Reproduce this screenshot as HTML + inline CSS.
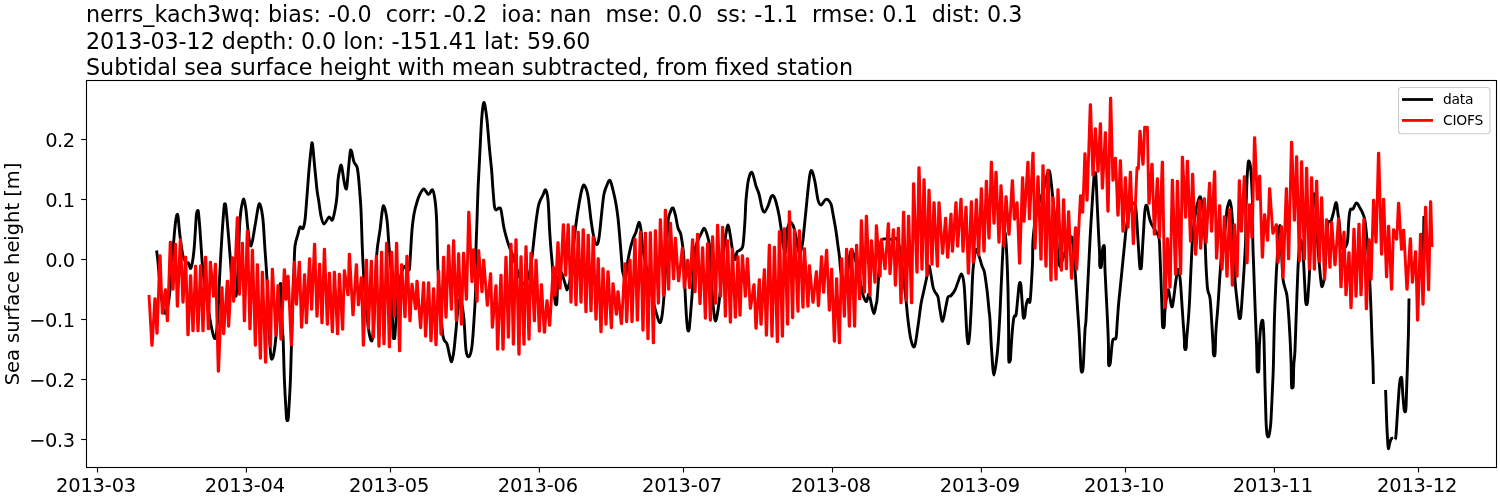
<!DOCTYPE html><html><head><meta charset="utf-8"><title>plot</title><style>html,body{margin:0;padding:0;background:#fff}svg{display:block;will-change:transform}text{font-family:"DejaVu Sans","Liberation Sans",sans-serif;fill:#000}</style></head><body>
<svg width="1500" height="500" viewBox="0 0 1500 500">
<rect width="1500" height="500" fill="#fff"/>
<defs><clipPath id="c"><rect x="86.5" y="80.5" width="1410.0" height="387.0"/></clipPath></defs>
<g clip-path="url(#c)" fill="none" stroke-linejoin="round" stroke-linecap="butt" stroke-width="2.9">
<path d="M156.6 250.5C156.8 252.4 157.4 256.2 158.0 262.0C158.6 267.8 159.2 277.8 160.0 285.0C160.8 292.2 161.7 300.2 162.5 305.0C163.3 309.8 164.1 313.5 165.0 313.5C165.9 313.5 167.2 308.9 168.0 305.0C168.8 301.1 169.3 297.2 170.0 290.0C170.7 282.8 171.2 271.7 172.0 262.0C172.8 252.3 173.8 239.5 174.5 232.0C175.2 224.5 175.8 219.9 176.3 217.0C176.7 214.1 176.9 214.4 177.2 214.4C177.5 214.4 177.6 213.4 178.1 217.0C178.6 220.6 179.2 229.5 180.0 236.0C180.8 242.5 181.9 251.5 183.0 256.0C184.1 260.5 185.5 261.8 186.4 263.0C187.3 264.2 187.7 262.2 188.5 263.0C189.3 263.8 190.1 270.2 191.0 268.0C191.9 265.8 193.2 258.0 194.0 250.0C194.8 242.0 195.6 226.2 196.0 220.0C196.4 213.8 196.4 214.6 196.7 213.0C197.0 211.4 197.3 210.4 197.6 210.4C197.9 210.4 198.1 209.7 198.5 213.0C198.9 216.3 199.4 222.2 200.0 230.0C200.6 237.8 201.4 252.3 202.0 260.0C202.6 267.7 202.8 269.3 203.6 276.0C204.4 282.7 205.8 291.8 207.0 300.0C208.2 308.2 209.7 318.6 211.0 325.0C212.3 331.4 213.9 339.1 215.0 338.6C216.1 338.1 216.8 330.1 217.5 322.0C218.2 313.9 218.6 298.7 219.0 290.0C219.4 281.3 219.5 279.2 220.0 270.0C220.5 260.8 221.3 245.5 222.0 235.0C222.7 224.5 223.6 212.1 224.1 207.0C224.6 201.9 224.7 204.4 225.0 204.4C225.3 204.4 225.4 202.7 225.9 207.0C226.4 211.3 227.2 221.2 228.0 230.0C228.8 238.8 229.7 251.3 230.4 260.0C231.1 268.7 231.1 276.0 232.0 282.0C232.9 288.0 235.0 298.0 236.0 296.0C237.0 294.0 237.4 281.0 238.0 270.0C238.6 259.0 238.9 240.0 239.4 230.0C239.9 220.0 240.4 214.7 241.0 210.0C241.6 205.3 242.3 203.4 242.7 201.6C243.1 199.8 243.3 199.0 243.6 199.0C243.9 199.0 244.1 199.8 244.5 201.6C244.9 203.4 245.4 205.3 246.0 210.0C246.6 214.7 247.2 224.0 248.0 230.0C248.8 236.0 249.8 246.7 251.0 246.0C252.2 245.3 253.8 232.3 255.0 226.0C256.2 219.7 257.2 211.6 258.0 208.0C258.8 204.4 259.2 202.4 260.0 204.4C260.8 206.4 262.2 212.4 263.0 220.0C263.8 227.6 264.3 240.0 265.0 250.0C265.7 260.0 266.2 264.0 267.0 280.0C267.8 296.0 269.1 332.9 270.0 346.0C270.9 359.1 271.4 360.3 272.4 358.6C273.4 356.9 275.1 345.8 276.0 336.0C276.9 326.2 277.5 308.1 278.0 300.0C278.5 291.9 278.8 290.1 279.1 287.6C279.4 285.1 279.7 285.0 280.0 285.0C280.3 285.0 280.5 280.1 280.9 287.6C281.3 295.1 282.0 321.3 282.4 330.0C282.8 338.7 282.9 331.7 283.2 340.0C283.5 348.3 283.9 368.3 284.4 380.0C284.9 391.7 285.6 403.7 286.0 410.0C286.4 416.3 286.3 416.2 286.5 418.0C286.7 419.8 287.1 420.6 287.4 420.6C287.7 420.6 288.1 419.8 288.3 418.0C288.5 416.2 288.4 416.3 288.8 410.0C289.2 403.7 290.0 390.7 290.4 380.0C290.8 369.3 291.0 361.0 291.4 346.0C291.8 331.0 292.6 302.7 293.0 290.0C293.4 277.3 293.7 277.3 294.0 270.0C294.3 262.7 294.3 252.0 295.0 246.0C295.7 240.0 297.2 237.2 298.0 234.0C298.8 230.8 299.2 227.9 300.0 227.0C300.8 226.1 302.2 229.6 303.0 228.4C303.8 227.2 304.3 225.4 305.0 220.0C305.7 214.6 306.3 204.3 307.0 196.0C307.7 187.7 308.3 177.7 309.0 170.0C309.7 162.3 310.4 154.4 311.0 150.0C311.6 145.6 311.7 140.5 312.4 143.8C313.1 147.1 314.2 162.3 315.0 170.0C315.8 177.7 316.4 185.0 317.0 190.0C317.6 195.0 317.9 195.7 318.6 200.0C319.3 204.3 320.1 212.0 321.0 216.0C321.9 220.0 322.7 223.8 324.0 224.0C325.3 224.2 327.6 217.7 329.0 217.0C330.4 216.3 331.4 221.2 332.4 220.0C333.4 218.8 334.2 214.0 335.0 210.0C335.8 206.0 336.5 201.0 337.0 196.0C337.5 191.0 337.5 184.7 338.0 180.0C338.5 175.3 339.6 170.1 340.1 167.6C340.6 165.1 340.7 165.0 341.0 165.0C341.3 165.0 341.5 165.4 341.9 167.6C342.3 169.8 343.0 174.9 343.5 178.0C344.0 181.1 344.7 184.6 345.1 186.4C345.5 188.2 345.7 189.0 346.0 189.0C346.3 189.0 346.5 189.6 346.9 186.4C347.3 183.2 347.9 175.6 348.4 170.0C348.9 164.4 349.7 155.9 350.1 152.6C350.5 149.3 350.7 150.0 351.0 150.0C351.3 150.0 351.4 150.6 351.9 152.6C352.4 154.6 353.1 159.6 354.0 162.0C354.9 164.4 356.3 164.7 357.0 167.0C357.7 169.3 358.0 172.2 358.4 176.0C358.8 179.8 359.2 184.3 359.6 190.0C360.0 195.7 360.5 200.0 361.0 210.0C361.5 220.0 361.9 238.3 362.4 250.0C362.9 261.7 363.1 267.5 364.0 280.0C364.9 292.5 366.7 314.9 368.0 325.0C369.3 335.1 370.9 343.1 372.0 340.6C373.1 338.1 373.7 324.1 374.5 310.0C375.3 295.9 375.7 269.3 376.6 256.0C377.5 242.7 379.0 237.7 380.0 230.0C381.0 222.3 381.7 213.9 382.4 210.0C383.1 206.1 383.2 204.7 384.0 206.4C384.8 208.1 386.2 213.4 387.0 220.0C387.8 226.6 388.3 237.7 389.0 246.0C389.7 254.3 390.4 257.7 391.0 270.0C391.6 282.3 392.1 309.0 392.5 320.0C392.9 331.0 392.9 332.9 393.1 336.0C393.4 339.1 393.7 338.6 394.0 338.6C394.3 338.6 394.6 339.1 394.9 336.0C395.2 332.9 395.3 328.5 396.0 320.0C396.7 311.5 397.7 293.8 399.0 285.0C400.3 276.2 402.3 269.5 404.0 267.0C405.7 264.5 408.0 270.8 409.0 270.0C410.0 269.2 409.5 268.7 410.0 262.0C410.5 255.3 411.3 238.0 412.0 230.0C412.7 222.0 413.2 218.7 414.0 214.0C414.8 209.3 416.0 205.3 417.0 202.0C418.0 198.7 418.8 196.2 420.0 194.0C421.2 191.8 422.6 188.9 424.0 189.0C425.4 189.1 427.0 194.5 428.4 194.6C429.8 194.7 431.5 188.9 432.6 189.8C433.7 190.7 434.3 195.0 435.0 200.0C435.7 205.0 436.1 208.3 436.6 220.0C437.1 231.7 437.4 256.7 438.0 270.0C438.6 283.3 439.2 289.0 440.0 300.0C440.8 311.0 441.8 328.7 443.0 336.0C444.2 343.3 445.9 340.8 447.0 344.0C448.1 347.2 448.7 352.1 449.5 355.0C450.3 357.9 450.9 362.4 451.6 361.6C452.4 360.8 453.3 355.3 454.0 350.0C454.7 344.7 455.3 337.0 456.0 330.0C456.7 323.0 457.3 313.2 458.0 308.0C458.7 302.8 459.3 299.5 460.0 299.0C460.7 298.5 461.3 301.5 462.0 305.0C462.7 308.5 463.3 312.5 464.0 320.0C464.7 327.5 465.2 343.9 466.0 350.0C466.8 356.1 468.0 357.3 469.0 356.6C470.0 355.9 471.2 352.1 472.0 346.0C472.8 339.9 473.4 329.3 474.0 320.0C474.6 310.7 475.3 301.7 475.6 290.0C475.9 278.3 475.8 261.7 476.0 250.0C476.2 238.3 476.7 230.0 477.0 220.0C477.3 210.0 477.7 198.3 478.0 190.0C478.3 181.7 478.7 176.7 479.0 170.0C479.3 163.3 479.6 158.3 480.0 150.0C480.4 141.7 481.1 127.5 481.6 120.0C482.1 112.5 482.7 107.9 483.1 105.0C483.5 102.1 483.7 102.4 484.0 102.4C484.3 102.4 484.4 102.1 484.9 105.0C485.4 107.9 486.2 112.5 487.0 120.0C487.8 127.5 488.8 141.7 489.6 150.0C490.4 158.3 491.0 163.3 491.6 170.0C492.2 176.7 492.5 184.0 493.0 190.0C493.5 196.0 493.9 202.7 494.4 206.0C494.9 209.3 495.2 209.7 496.0 210.0C496.8 210.3 498.2 208.0 499.0 208.0C499.8 208.0 500.2 207.0 501.0 210.0C501.8 213.0 502.8 221.7 503.6 226.0C504.4 230.3 505.1 232.7 506.0 236.0C506.9 239.3 507.8 242.7 509.0 246.0C510.2 249.3 511.8 252.7 513.0 256.0C514.2 259.3 514.8 262.3 516.0 266.0C517.2 269.7 518.7 275.0 520.0 278.0C521.3 281.0 522.7 284.0 524.0 284.0C525.3 284.0 526.9 280.7 528.0 278.0C529.1 275.3 529.8 272.0 530.5 268.0C531.2 264.0 531.6 260.3 532.4 254.0C533.1 247.7 534.1 237.7 535.0 230.0C535.9 222.3 537.2 212.8 538.0 208.0C538.8 203.2 539.2 203.2 540.0 201.0C540.8 198.8 542.1 196.9 543.0 195.0C543.9 193.1 544.8 189.0 545.6 189.8C546.4 190.6 547.3 193.3 548.0 200.0C548.7 206.7 549.1 221.7 549.6 230.0C550.1 238.3 550.5 244.0 551.0 250.0C551.5 256.0 551.9 259.0 552.4 266.0C552.9 273.0 553.5 286.0 554.0 292.0C554.5 298.0 554.8 299.9 555.1 302.0C555.4 304.1 555.7 304.6 556.0 304.6C556.3 304.6 556.6 306.1 556.9 302.0C557.2 297.9 557.3 285.0 558.0 280.0C558.7 275.0 560.0 272.0 561.0 272.0C562.0 272.0 563.1 277.4 564.0 280.0C564.9 282.6 565.6 285.7 566.1 287.4C566.6 289.1 566.7 290.0 567.0 290.0C567.3 290.0 567.4 289.1 567.9 287.4C568.4 285.7 569.1 286.2 570.0 280.0C570.9 273.8 572.0 259.3 573.0 250.0C574.0 240.7 575.0 231.7 576.0 224.0C577.0 216.3 578.0 209.8 579.0 204.0C580.0 198.2 581.1 192.1 582.0 189.0C582.9 185.9 583.4 184.2 584.4 185.4C585.4 186.6 586.9 190.2 588.0 196.0C589.1 201.8 590.1 213.3 591.0 220.0C591.9 226.7 592.7 231.9 593.6 236.0C594.5 240.1 595.5 244.3 596.4 244.6C597.3 244.9 598.1 243.8 599.0 238.0C599.9 232.2 601.2 217.3 602.0 210.0C602.8 202.7 603.2 198.2 604.0 194.0C604.8 189.8 606.0 187.3 607.0 185.0C608.0 182.7 609.0 179.6 610.0 180.4C611.0 181.2 612.0 186.1 613.0 190.0C614.0 193.9 615.2 199.3 616.0 204.0C616.8 208.7 617.3 212.0 618.0 218.0C618.7 224.0 619.4 233.0 620.0 240.0C620.6 247.0 621.2 255.0 621.6 260.0C622.0 265.0 622.0 267.1 622.4 270.0C622.8 272.9 623.7 275.7 624.1 277.4C624.5 279.1 624.7 280.0 625.0 280.0C625.3 280.0 625.6 279.7 625.9 277.4C626.2 275.1 626.3 270.6 627.0 266.0C627.7 261.4 629.0 254.5 630.0 250.0C631.0 245.5 632.0 242.0 633.0 239.0C634.0 236.0 635.0 234.8 636.0 232.0C637.0 229.2 638.2 222.7 639.0 222.4C639.8 222.1 640.3 225.4 641.0 230.0C641.7 234.6 641.8 242.5 643.0 250.0C644.2 257.5 646.3 266.7 648.0 275.0C649.7 283.3 651.7 293.8 653.0 300.0C654.3 306.2 654.9 308.2 656.0 312.0C657.1 315.8 658.6 321.9 659.6 322.6C660.6 323.3 661.3 320.4 662.0 316.0C662.7 311.6 663.3 305.3 664.0 296.0C664.7 286.7 665.3 272.3 666.0 260.0C666.7 247.7 667.3 230.0 668.0 222.0C668.7 214.0 669.6 214.3 670.4 212.0C671.2 209.7 672.1 207.3 673.0 208.0C673.9 208.7 674.8 212.7 675.6 216.0C676.4 219.3 677.2 225.1 678.0 228.0C678.8 230.9 679.9 230.9 680.6 233.6C681.3 236.3 681.8 239.6 682.4 244.0C683.0 248.4 683.6 252.3 684.0 260.0C684.4 267.7 684.6 280.7 685.0 290.0C685.4 299.3 686.0 309.6 686.4 316.0C686.8 322.4 687.2 325.9 687.5 328.4C687.8 330.9 688.1 331.0 688.4 331.0C688.7 331.0 689.0 330.9 689.3 328.4C689.6 325.9 689.9 322.4 690.4 316.0C690.9 309.6 691.9 297.7 692.4 290.0C692.9 282.3 693.2 276.7 693.6 270.0C694.0 263.3 694.3 255.0 695.0 250.0C695.7 245.0 697.0 242.7 698.0 240.0C699.0 237.3 699.9 235.9 701.0 234.0C702.1 232.1 703.2 227.7 704.4 228.4C705.6 229.1 707.1 234.4 708.0 238.0C708.9 241.6 709.3 241.3 710.0 250.0C710.7 258.7 711.4 280.0 712.0 290.0C712.6 300.0 713.1 305.3 713.6 310.0C714.1 314.7 714.4 316.6 714.7 318.4C715.0 320.2 715.3 321.0 715.6 321.0C715.9 321.0 716.1 320.2 716.5 318.4C716.9 316.6 717.4 314.1 718.0 310.0C718.6 305.9 719.3 300.7 720.0 294.0C720.7 287.3 721.2 279.0 722.0 270.0C722.8 261.0 724.1 247.1 725.0 240.0C725.9 232.9 726.6 230.1 727.1 227.6C727.6 225.1 727.7 225.0 728.0 225.0C728.3 225.0 728.5 225.8 728.9 227.6C729.3 229.4 729.8 232.3 730.4 236.0C731.0 239.7 731.8 246.3 732.4 250.0C733.0 253.7 733.5 256.5 734.0 258.0C734.5 259.5 735.0 260.0 735.5 259.0C736.0 258.0 736.2 253.5 737.0 252.0C737.8 250.5 739.0 251.2 740.0 250.0C741.0 248.8 742.2 250.0 743.0 245.0C743.8 240.0 744.5 227.5 745.0 220.0C745.5 212.5 745.4 206.7 746.0 200.0C746.6 193.3 747.4 184.6 748.4 180.0C749.4 175.4 750.7 171.4 752.0 172.4C753.3 173.4 754.8 182.4 756.0 186.0C757.2 189.6 758.0 190.3 759.0 194.0C760.0 197.7 761.1 205.0 762.0 208.0C762.9 211.0 763.4 212.5 764.4 212.2C765.4 211.9 766.9 208.5 768.0 206.0C769.1 203.5 770.1 198.7 771.0 197.0C771.9 195.3 772.6 195.0 773.4 195.8C774.2 196.6 775.1 198.8 776.0 202.0C776.9 205.2 778.2 210.7 779.0 215.0C779.8 219.3 780.3 223.2 781.0 228.0C781.7 232.8 782.2 240.0 783.0 244.0C783.8 248.0 784.8 254.0 785.5 252.0C786.2 250.0 786.5 236.5 787.0 232.0C787.5 227.5 787.8 226.6 788.5 225.0C789.2 223.4 790.1 221.9 791.0 222.4C791.9 222.9 793.0 224.7 794.0 228.0C795.0 231.3 796.3 238.3 797.0 242.0C797.7 245.7 797.9 248.2 798.4 250.0C798.9 251.8 799.3 254.0 800.0 253.0C800.7 252.0 801.7 247.8 802.4 244.0C803.1 240.2 803.4 235.7 804.0 230.0C804.6 224.3 805.3 216.7 806.0 210.0C806.7 203.3 807.3 196.0 808.0 190.0C808.7 184.0 809.3 177.2 810.0 174.0C810.7 170.8 811.2 169.7 812.0 171.0C812.8 172.3 814.0 177.2 815.0 182.0C816.0 186.8 817.0 196.2 818.0 200.0C819.0 203.8 819.8 205.0 821.0 205.0C822.2 205.0 823.9 200.9 825.0 200.0C826.1 199.1 826.6 198.7 827.6 199.4C828.6 200.1 830.1 201.6 831.0 204.0C831.9 206.4 832.2 209.5 833.0 214.0C833.8 218.5 835.2 225.7 836.0 231.0C836.8 236.3 837.4 241.5 838.0 246.0C838.6 250.5 839.2 254.0 839.6 258.0C840.0 262.0 840.0 265.8 840.6 270.0C841.2 274.2 842.2 280.5 843.0 283.0C843.8 285.5 844.7 287.2 845.5 285.0C846.3 282.8 847.2 275.2 848.0 270.0C848.8 264.8 849.3 257.3 850.0 254.0C850.7 250.7 851.3 249.7 852.0 250.0C852.7 250.3 853.3 254.0 854.0 256.0C854.7 258.0 855.0 258.0 856.0 262.0C857.0 266.0 858.8 274.5 860.0 280.0C861.2 285.5 861.9 291.4 863.0 295.0C864.1 298.6 865.4 301.8 866.4 301.6C867.4 301.4 868.1 293.4 869.0 294.0C869.9 294.6 870.7 301.7 871.5 305.0C872.3 308.3 873.2 313.6 874.0 313.6C874.8 313.6 875.5 307.3 876.0 305.0C876.5 302.7 876.6 304.2 877.0 300.0C877.4 295.8 878.0 286.7 878.4 280.0C878.8 273.3 879.2 266.3 879.6 260.0C880.0 253.7 880.3 245.5 881.0 242.0C881.7 238.5 882.2 239.4 884.0 239.0C885.8 238.6 890.0 239.5 892.0 239.4C894.0 239.3 894.8 237.5 896.0 238.4C897.2 239.3 898.0 240.6 899.0 245.0C900.0 249.4 900.8 255.8 902.0 265.0C903.2 274.2 905.0 290.8 906.0 300.0C907.0 309.2 907.2 313.3 908.0 320.0C908.8 326.7 909.9 335.6 911.0 340.0C912.1 344.4 913.4 348.7 914.6 346.4C915.8 344.1 916.9 333.1 918.0 326.0C919.1 318.9 920.0 310.0 921.0 304.0C922.0 298.0 923.0 294.7 924.0 290.0C925.0 285.3 926.2 280.0 927.0 276.0C927.8 272.0 928.3 266.2 929.0 266.0C929.7 265.8 930.3 271.5 931.0 275.0C931.7 278.5 932.3 284.2 933.0 287.0C933.7 289.8 934.2 290.3 935.0 292.0C935.8 293.7 937.2 294.0 938.0 297.0C938.8 300.0 939.2 305.9 940.0 310.0C940.8 314.1 941.6 322.0 942.6 321.3C943.6 320.6 945.1 310.1 946.0 306.0C946.9 301.9 947.2 298.7 948.0 297.0C948.8 295.3 949.8 296.8 951.0 295.6C952.2 294.4 953.8 292.3 955.0 290.0C956.2 287.7 956.9 284.7 958.0 282.0C959.1 279.3 960.4 273.7 961.4 274.0C962.4 274.3 963.3 278.0 964.0 284.0C964.7 290.0 965.1 301.3 965.6 310.0C966.1 318.7 966.5 330.4 967.0 336.0C967.5 341.6 967.9 344.6 968.4 343.6C968.9 342.6 969.5 337.3 970.0 330.0C970.5 322.7 971.1 310.0 971.6 300.0C972.1 290.0 972.3 278.3 973.0 270.0C973.7 261.7 975.0 252.3 976.0 250.0C977.0 247.7 978.0 253.3 979.0 256.0C980.0 258.7 981.1 263.3 982.0 266.0C982.9 268.7 983.6 268.0 984.4 272.0C985.2 276.0 986.2 283.7 987.0 290.0C987.8 296.3 988.5 305.0 989.0 310.0C989.5 315.0 989.6 313.3 990.0 320.0C990.4 326.7 990.9 340.8 991.6 350.0C992.3 359.2 993.0 375.0 994.0 375.0C995.0 375.0 996.7 359.2 997.6 350.0C998.5 340.8 999.0 330.0 999.6 320.0C1000.2 310.0 1000.5 300.0 1001.0 290.0C1001.5 280.0 1001.9 269.1 1002.4 260.0C1002.9 250.9 1003.3 240.1 1003.7 235.6C1004.1 231.1 1004.3 233.0 1004.6 233.0C1004.9 233.0 1005.1 231.1 1005.5 235.6C1005.9 240.1 1006.6 250.9 1007.0 260.0C1007.4 269.1 1007.7 278.3 1008.0 290.0C1008.3 301.7 1008.5 318.5 1008.6 330.0C1008.7 341.5 1008.5 353.7 1008.7 359.0C1008.9 364.3 1009.3 361.6 1009.6 361.6C1009.9 361.6 1010.3 360.9 1010.5 359.0C1010.7 357.1 1010.7 354.8 1011.0 350.0C1011.3 345.2 1011.9 335.5 1012.4 330.0C1012.9 324.5 1013.4 319.5 1014.0 317.0C1014.6 314.5 1015.4 317.8 1016.0 315.0C1016.6 312.2 1017.1 305.0 1017.6 300.0C1018.1 295.0 1018.7 287.9 1019.1 285.0C1019.5 282.1 1019.7 282.4 1020.0 282.4C1020.3 282.4 1020.6 282.1 1020.9 285.0C1021.2 287.9 1021.6 294.9 1022.0 300.0C1022.4 305.1 1022.8 312.6 1023.1 315.6C1023.4 318.6 1023.7 318.2 1024.0 318.2C1024.3 318.2 1024.6 317.6 1024.9 315.6C1025.2 313.6 1025.5 308.7 1026.0 306.0C1026.5 303.3 1027.3 300.1 1028.0 299.4C1028.7 298.7 1029.4 304.8 1030.0 301.6C1030.6 298.4 1031.2 286.9 1031.6 280.0C1032.0 273.1 1032.4 266.7 1032.6 260.0C1032.8 253.3 1032.4 247.5 1033.0 240.0C1033.6 232.5 1034.8 221.7 1036.0 215.0C1037.2 208.3 1038.8 203.8 1040.0 200.0C1041.2 196.2 1042.2 194.7 1043.0 192.0C1043.8 189.3 1044.3 186.8 1045.0 184.0C1045.7 181.2 1046.2 177.1 1047.0 175.0C1047.8 172.9 1048.8 168.9 1049.6 171.4C1050.4 173.9 1051.3 183.6 1052.0 190.0C1052.7 196.4 1053.3 203.3 1054.0 210.0C1054.7 216.7 1055.3 222.3 1056.0 230.0C1056.7 237.7 1057.3 249.9 1058.0 256.0C1058.7 262.1 1059.2 266.3 1060.0 266.6C1060.8 266.9 1061.7 261.8 1063.0 258.0C1064.3 254.2 1066.5 247.3 1068.0 244.0C1069.5 240.7 1070.8 233.7 1072.0 238.0C1073.2 242.3 1074.2 259.7 1075.0 270.0C1075.8 280.3 1076.3 290.0 1077.0 300.0C1077.7 310.0 1078.4 320.0 1079.0 330.0C1079.6 340.0 1080.2 353.4 1080.5 360.0C1080.8 366.6 1080.8 367.6 1081.1 369.6C1081.3 371.6 1081.7 372.2 1082.0 372.2C1082.3 372.2 1082.6 371.6 1082.9 369.6C1083.2 367.6 1083.2 366.6 1083.6 360.0C1083.9 353.4 1084.6 336.7 1085.0 330.0C1085.4 323.3 1085.5 328.3 1086.0 320.0C1086.5 311.7 1087.3 293.3 1088.0 280.0C1088.7 266.7 1089.3 253.3 1090.0 240.0C1090.7 226.7 1091.7 210.7 1092.4 200.0C1093.1 189.3 1093.7 180.1 1094.1 175.6C1094.5 171.1 1094.7 173.0 1095.0 173.0C1095.3 173.0 1095.6 171.1 1095.9 175.6C1096.2 180.1 1096.6 190.9 1097.0 200.0C1097.4 209.1 1098.0 221.0 1098.4 230.0C1098.8 239.0 1099.4 248.2 1099.6 254.0C1099.8 259.8 1099.5 262.7 1099.7 265.0C1099.9 267.3 1100.3 267.6 1100.6 267.6C1100.9 267.6 1101.3 266.9 1101.5 265.0C1101.7 263.1 1101.8 258.8 1102.0 256.0C1102.2 253.2 1102.4 250.1 1102.7 248.4C1103.0 246.7 1103.3 245.8 1103.6 245.8C1103.9 245.8 1104.3 244.4 1104.5 248.4C1104.7 252.4 1104.6 259.7 1105.0 270.0C1105.4 280.3 1106.4 297.7 1107.0 310.0C1107.6 322.3 1108.2 335.2 1108.4 344.0C1108.7 352.8 1108.3 359.4 1108.5 363.0C1108.7 366.6 1109.1 365.6 1109.4 365.6C1109.7 365.6 1110.0 364.6 1110.3 363.0C1110.6 361.4 1110.7 359.5 1111.0 356.0C1111.3 352.5 1112.0 344.8 1112.4 342.0C1112.8 339.2 1112.9 339.7 1113.5 339.0C1114.1 338.3 1115.4 340.2 1116.0 338.0C1116.6 335.8 1116.6 331.5 1117.0 326.0C1117.4 320.5 1118.0 311.0 1118.5 305.0C1119.0 299.0 1119.2 297.5 1120.0 290.0C1120.8 282.5 1122.2 268.3 1123.0 260.0C1123.8 251.7 1124.5 245.0 1125.0 240.0C1125.5 235.0 1125.3 234.7 1126.0 230.0C1126.7 225.3 1128.0 216.3 1129.0 212.0C1130.0 207.7 1131.1 205.3 1132.0 204.0C1132.9 202.7 1133.8 203.0 1134.5 204.0C1135.2 205.0 1135.4 204.0 1136.0 210.0C1136.6 216.0 1137.4 230.7 1138.0 240.0C1138.6 249.3 1139.3 260.9 1139.7 265.6C1140.1 270.3 1140.3 268.2 1140.6 268.2C1140.9 268.2 1141.1 270.3 1141.5 265.6C1141.9 260.9 1142.4 249.3 1143.0 240.0C1143.6 230.7 1144.3 215.7 1145.0 210.0C1145.7 204.3 1146.3 204.8 1147.0 205.8C1147.7 206.8 1148.3 213.1 1149.0 216.0C1149.7 218.9 1150.0 220.7 1151.0 223.0C1152.0 225.3 1153.7 227.5 1155.0 230.0C1156.3 232.5 1158.2 233.8 1159.0 238.0C1159.8 242.2 1159.7 248.0 1160.0 255.0C1160.3 262.0 1160.7 270.8 1161.0 280.0C1161.3 289.2 1161.8 302.5 1162.0 310.0C1162.2 317.5 1162.3 322.2 1162.5 325.2C1162.7 328.2 1163.1 327.8 1163.4 327.8C1163.7 327.8 1164.0 328.2 1164.3 325.2C1164.6 322.2 1164.4 315.9 1165.0 310.0C1165.6 304.1 1167.2 292.0 1168.0 290.0C1168.8 288.0 1169.3 295.3 1170.0 298.0C1170.7 300.7 1171.4 309.2 1172.4 306.2C1173.4 303.2 1175.1 286.1 1176.0 280.0C1176.9 273.9 1177.3 269.7 1178.0 269.4C1178.7 269.1 1179.5 274.6 1180.0 278.0C1180.5 281.4 1180.5 283.0 1181.0 290.0C1181.5 297.0 1182.4 311.7 1183.0 320.0C1183.6 328.3 1184.2 335.5 1184.4 340.0C1184.7 344.5 1184.3 345.4 1184.5 347.0C1184.7 348.6 1185.1 349.6 1185.4 349.6C1185.7 349.6 1186.1 348.6 1186.3 347.0C1186.5 345.4 1186.3 344.5 1186.6 340.0C1186.9 335.5 1187.8 326.7 1188.3 320.0C1188.8 313.3 1189.1 310.0 1189.6 300.0C1190.1 290.0 1190.8 271.3 1191.4 260.0C1192.0 248.7 1192.2 240.3 1193.0 232.0C1193.8 223.7 1195.1 215.3 1196.0 210.0C1196.9 204.7 1197.7 202.1 1198.5 200.0C1199.3 197.9 1199.8 195.4 1200.6 197.4C1201.3 199.4 1202.3 204.9 1203.0 212.0C1203.7 219.1 1204.5 231.2 1205.0 240.0C1205.5 248.8 1205.6 256.8 1206.0 265.0C1206.4 273.2 1206.9 283.5 1207.6 289.0C1208.3 294.5 1209.3 292.8 1210.0 298.0C1210.7 303.2 1211.1 312.3 1211.6 320.0C1212.1 327.7 1212.7 338.5 1213.0 344.0C1213.3 349.5 1213.1 351.1 1213.3 353.0C1213.5 354.9 1213.9 355.6 1214.2 355.6C1214.5 355.6 1214.8 357.3 1215.1 353.0C1215.4 348.7 1215.5 338.0 1216.0 330.0C1216.5 322.0 1217.4 313.3 1218.0 305.0C1218.6 296.7 1219.1 287.5 1219.6 280.0C1220.1 272.5 1220.6 265.0 1221.0 260.0C1221.4 255.0 1221.3 255.0 1222.0 250.0C1222.7 245.0 1224.2 236.7 1225.0 230.0C1225.8 223.3 1226.4 214.5 1227.0 210.0C1227.6 205.5 1228.3 204.6 1228.7 203.0C1229.1 201.4 1229.3 200.4 1229.6 200.4C1229.9 200.4 1230.2 201.4 1230.5 203.0C1230.8 204.6 1231.2 205.5 1231.6 210.0C1232.0 214.5 1232.4 218.5 1233.0 230.0C1233.6 241.5 1234.3 267.3 1235.0 279.0C1235.7 290.7 1236.3 293.8 1237.0 300.0C1237.7 306.2 1238.4 312.9 1238.9 316.0C1239.4 319.1 1239.5 318.6 1239.8 318.6C1240.1 318.6 1240.3 319.1 1240.7 316.0C1241.1 312.9 1241.5 307.7 1242.0 300.0C1242.5 292.3 1243.4 280.0 1244.0 270.0C1244.6 260.0 1245.3 250.0 1245.6 240.0C1245.9 230.0 1245.8 220.0 1246.0 210.0C1246.2 200.0 1246.7 187.7 1247.0 180.0C1247.3 172.3 1247.8 166.8 1248.1 163.6C1248.4 160.4 1248.7 161.0 1249.0 161.0C1249.3 161.0 1249.6 161.8 1249.9 163.6C1250.2 165.4 1250.6 165.9 1251.0 172.0C1251.4 178.1 1252.1 188.7 1252.4 200.0C1252.7 211.3 1252.6 229.2 1252.8 240.0C1253.0 250.8 1253.2 254.2 1253.6 265.0C1254.0 275.8 1254.5 291.7 1255.0 305.0C1255.5 318.3 1256.2 334.3 1256.6 345.0C1256.9 355.7 1256.9 364.6 1257.1 369.0C1257.3 373.4 1257.7 371.6 1258.0 371.6C1258.3 371.6 1258.7 373.4 1258.9 369.0C1259.1 364.6 1259.2 351.5 1259.4 345.0C1259.7 338.5 1260.1 333.7 1260.4 330.0C1260.7 326.3 1261.0 324.4 1261.3 322.8C1261.6 321.2 1261.9 320.2 1262.2 320.2C1262.5 320.2 1262.8 319.5 1263.1 322.8C1263.4 326.1 1263.7 329.6 1264.0 340.0C1264.3 350.4 1264.7 371.7 1265.0 385.0C1265.3 398.3 1265.7 411.8 1266.0 420.0C1266.3 428.2 1266.6 431.2 1267.0 434.0C1267.4 436.8 1268.1 437.3 1268.6 436.6C1269.1 435.9 1269.6 432.8 1270.0 430.0C1270.4 427.2 1270.6 426.7 1271.0 420.0C1271.4 413.3 1272.0 399.2 1272.4 390.0C1272.8 380.8 1273.1 376.7 1273.4 365.0C1273.7 353.3 1274.0 334.2 1274.4 320.0C1274.8 305.8 1275.6 289.7 1276.0 280.0C1276.4 270.3 1276.5 270.0 1277.0 262.0C1277.5 254.0 1278.4 237.7 1279.0 232.0C1279.6 226.3 1279.9 223.0 1280.4 228.0C1280.9 233.0 1281.6 253.5 1282.0 262.0C1282.4 270.5 1282.5 274.7 1283.0 279.0C1283.5 283.3 1284.3 285.2 1285.0 288.0C1285.7 290.8 1286.3 290.7 1287.0 296.0C1287.7 301.3 1288.3 309.3 1289.0 320.0C1289.7 330.7 1290.6 349.2 1291.0 360.0C1291.4 370.8 1291.3 380.4 1291.5 385.0C1291.7 389.6 1292.1 387.6 1292.4 387.6C1292.7 387.6 1293.1 388.8 1293.3 385.0C1293.5 381.2 1293.5 370.8 1293.8 365.0C1294.1 359.2 1294.6 359.2 1295.0 350.0C1295.4 340.8 1295.9 323.7 1296.4 310.0C1296.9 296.3 1297.5 279.2 1298.0 268.0C1298.5 256.8 1299.3 247.3 1299.7 242.6C1300.1 237.9 1300.3 240.0 1300.6 240.0C1300.9 240.0 1301.1 240.6 1301.5 242.6C1301.9 244.6 1302.6 247.4 1303.0 252.0C1303.4 256.6 1303.7 263.7 1304.0 270.0C1304.3 276.3 1304.7 284.7 1305.0 290.0C1305.3 295.3 1305.4 299.6 1305.7 302.0C1306.0 304.4 1306.3 304.6 1306.6 304.6C1306.9 304.6 1307.2 304.4 1307.5 302.0C1307.8 299.6 1308.1 295.3 1308.4 290.0C1308.8 284.7 1309.2 280.0 1309.6 270.0C1310.0 260.0 1310.5 241.7 1311.0 230.0C1311.5 218.3 1311.9 205.9 1312.5 200.0C1313.1 194.1 1313.8 192.7 1314.4 194.4C1315.0 196.1 1315.5 202.4 1316.0 210.0C1316.5 217.6 1317.0 231.0 1317.5 240.0C1318.0 249.0 1318.7 257.0 1319.3 264.0C1319.9 271.0 1320.5 278.2 1321.0 282.0C1321.5 285.8 1321.7 286.9 1322.2 286.6C1322.7 286.3 1323.5 282.8 1324.0 280.0C1324.5 277.2 1324.6 276.7 1325.0 270.0C1325.4 263.3 1326.0 247.8 1326.5 240.0C1327.0 232.2 1327.2 226.2 1328.0 223.0C1328.8 219.8 1330.1 222.8 1331.0 221.0C1331.9 219.2 1332.9 214.7 1333.6 212.0C1334.3 209.3 1334.7 206.6 1335.1 205.0C1335.5 203.4 1335.7 202.4 1336.0 202.4C1336.3 202.4 1336.6 203.1 1336.9 205.0C1337.2 206.9 1337.6 210.8 1338.0 214.0C1338.4 217.2 1338.9 219.0 1339.4 224.0C1339.9 229.0 1340.4 239.8 1341.0 244.0C1341.6 248.2 1342.2 248.7 1343.0 249.0C1343.8 249.3 1345.2 247.5 1346.0 246.0C1346.8 244.5 1347.1 244.7 1347.6 240.0C1348.1 235.3 1348.5 223.1 1349.0 218.0C1349.5 212.9 1349.7 211.0 1350.4 209.5C1351.1 208.0 1352.0 210.1 1353.0 209.0C1354.0 207.9 1355.2 203.2 1356.4 203.0C1357.6 202.8 1358.9 206.2 1360.0 208.0C1361.1 209.8 1362.2 211.8 1363.0 214.0C1363.8 216.2 1364.3 216.7 1365.0 221.0C1365.7 225.3 1366.3 231.8 1367.0 240.0C1367.7 248.2 1368.5 262.3 1369.0 270.0C1369.5 277.7 1369.7 279.3 1370.0 286.0C1370.3 292.7 1370.7 301.0 1371.0 310.0C1371.3 319.0 1371.7 330.8 1372.0 340.0C1372.3 349.2 1372.8 357.7 1373.0 365.0C1373.2 372.3 1373.3 380.8 1373.4 384.0" stroke="#000"/>
<path d="M1385.6 390.0C1385.8 395.0 1386.3 411.7 1386.6 420.0C1386.9 428.3 1387.3 435.2 1387.6 440.0C1387.9 444.8 1388.0 448.3 1388.4 448.6C1388.8 448.9 1389.5 443.7 1390.0 442.0C1390.5 440.3 1390.9 439.1 1391.4 438.5C1391.9 437.9 1392.7 438.2 1393.0 438.2" stroke="#000"/>
<path d="M1423.2 262.0C1423.3 254.3 1423.8 223.7 1423.9 216.0" stroke="#000"/>
<path d="M1394.6 439.0C1394.8 438.7 1395.4 440.2 1395.8 437.0C1396.2 433.8 1396.5 427.8 1397.0 420.0C1397.5 412.2 1398.5 396.7 1399.0 390.0C1399.5 383.3 1399.8 382.1 1400.1 380.0C1400.4 377.9 1400.7 377.4 1401.0 377.4C1401.3 377.4 1401.6 376.7 1401.9 380.0C1402.2 383.3 1402.6 392.2 1403.0 397.0C1403.4 401.8 1403.8 406.6 1404.1 409.0C1404.4 411.4 1404.7 411.6 1405.0 411.6C1405.3 411.6 1405.6 412.6 1405.9 409.0C1406.2 405.4 1406.3 398.2 1406.6 390.0C1406.9 381.8 1407.3 370.0 1407.6 360.0C1407.9 350.0 1408.3 340.2 1408.5 330.0C1408.7 319.8 1408.9 303.8 1409.0 298.5" stroke="#000"/>
<path d="M149.0 295.0L151.8 345.3L152.2 345.3L154.8 298.7L155.2 298.7L156.8 333.3L157.2 333.3L159.8 255.7L160.2 255.7L162.2 313.3L162.6 313.3L165.2 289.7L165.6 289.7L167.2 320.9L167.6 320.9L170.2 242.3L170.6 242.3L172.8 289.3L173.2 289.3L175.2 244.3L175.6 244.3L177.2 306.3L177.6 306.3L180.2 239.7L180.6 239.7L182.8 302.3L183.2 302.3L185.4 257.1L185.8 257.1L187.8 334.9L188.2 334.9L190.4 275.7L190.8 275.7L192.8 330.9L193.2 330.9L195.4 266.3L195.8 266.3L197.8 330.9L198.2 330.9L200.4 265.7L200.8 265.7L202.8 330.9L203.2 330.9L205.4 257.1L205.8 257.1L208.2 328.9L208.6 328.9L210.2 262.3L210.6 262.3L213.4 296.3L213.8 296.3L215.2 264.1L215.6 264.1L218.2 371.3L218.6 371.3L221.8 287.7L222.2 287.7L223.4 333.7L223.8 333.7L227.2 281.1L227.6 281.1L228.4 326.3L228.8 326.3L232.2 257.7L232.6 257.7L233.4 301.3L233.8 301.3L237.2 217.7L237.6 217.7L239.2 294.3L239.6 294.3L242.2 243.1L242.6 243.1L244.2 320.9L244.6 320.9L247.2 231.1L247.6 231.1L249.8 328.9L250.2 328.9L252.2 250.3L252.6 250.3L255.2 345.3L255.6 345.3L257.2 264.7L257.6 264.7L260.2 358.3L260.6 358.3L262.2 272.1L262.6 272.1L265.4 362.3L265.8 362.3L267.2 280.7L267.6 280.7L270.2 346.3L270.6 346.3L272.2 269.3L272.6 269.3L275.8 335.3L276.2 335.3L277.8 285.7L278.2 285.7L280.8 339.3L281.2 339.3L284.2 269.7L284.6 269.7L285.8 299.3L286.2 299.3L287.8 276.3L288.2 276.3L291.2 344.9L291.6 344.9L294.2 262.3L294.6 262.3L296.2 304.3L296.6 304.3L299.2 262.1L299.6 262.1L301.4 327.3L301.8 327.3L304.4 274.7L304.8 274.7L306.2 322.9L306.6 322.9L309.4 258.7L309.8 258.7L311.4 309.3L311.8 309.3L314.4 244.1L314.8 244.1L316.8 316.3L317.2 316.3L319.4 264.1L319.8 264.1L321.8 322.9L322.2 322.9L324.2 249.3L324.6 249.3L327.2 324.3L327.6 324.3L329.2 273.3L329.6 273.3L332.2 331.9L332.6 331.9L334.2 272.1L334.6 272.1L337.4 333.9L337.8 333.9L339.2 274.3L339.6 274.3L342.4 329.3L342.8 329.3L344.2 270.7L344.6 270.7L347.8 294.9L348.2 294.9L349.2 254.1L349.6 254.1L352.8 314.9L353.2 314.9L356.2 264.7L356.6 264.7L358.2 304.9L358.6 304.9L361.2 277.7L361.6 277.7L363.2 345.3L363.6 345.3L366.2 260.1L366.6 260.1L368.2 328.3L368.6 328.3L371.2 261.1L371.6 261.1L373.2 337.3L373.6 337.3L376.2 256.3L376.6 256.3L378.8 346.3L379.2 346.3L381.4 252.3L381.8 252.3L383.8 343.9L384.2 343.9L386.4 243.1L386.8 243.1L389.2 346.9L389.6 346.9L391.4 252.3L391.8 252.3L394.2 316.3L394.6 316.3L396.4 243.1L396.8 243.1L399.4 350.9L399.8 350.9L401.4 264.7L401.8 264.7L404.8 316.9L405.2 316.9L406.8 256.3L407.2 256.3L409.8 320.9L410.2 320.9L411.8 284.3L412.2 284.3L415.4 308.9L415.8 308.9L416.8 281.1L417.2 281.1L420.4 327.7L420.8 327.7L423.4 282.7L423.8 282.7L425.4 336.3L425.8 336.3L428.4 282.7L428.8 282.7L430.8 340.9L431.2 340.9L433.4 288.7L433.8 288.7L435.8 344.9L436.2 344.9L438.4 271.1L438.8 271.1L440.8 334.3L441.2 334.3L443.4 257.1L443.8 257.1L445.8 317.3L446.2 317.3L448.4 245.7L448.8 245.7L451.2 309.3L451.6 309.3L453.4 240.7L453.8 240.7L456.2 320.3L456.6 320.3L458.4 253.7L458.8 253.7L461.2 324.3L461.6 324.3L463.4 253.1L463.8 253.1L466.2 299.3L466.6 299.3L468.6 212.3L469.0 212.3L471.8 281.7L472.2 281.7L473.4 249.7L473.8 249.7L476.8 301.3L477.2 301.3L478.4 250.7L478.8 250.7L481.8 291.7L482.2 291.7L483.4 260.3L483.8 260.3L487.2 305.3L487.6 305.3L490.4 273.7L490.8 273.7L492.2 327.3L492.6 327.3L495.8 285.7L496.2 285.7L497.4 349.3L497.8 349.3L500.8 275.1L501.2 275.1L502.8 349.3L503.2 349.3L505.8 257.1L506.2 257.1L508.2 337.3L508.6 337.3L510.8 244.3L511.2 244.3L513.2 344.3L513.6 344.3L515.8 239.7L516.2 239.7L518.8 354.3L519.2 354.3L520.8 256.7L521.2 256.7L523.8 344.3L524.2 344.3L525.8 246.7L526.2 246.7L528.8 339.3L529.2 339.3L530.8 253.1L531.2 253.1L534.2 320.9L534.6 320.9L535.8 260.1L536.2 260.1L539.2 331.3L539.6 331.3L541.2 284.7L541.6 284.7L544.2 332.3L544.6 332.3L546.8 300.7L547.2 300.7L549.4 325.3L549.8 325.3L553.2 267.3L553.6 267.3L554.8 295.3L555.2 295.3L557.8 242.7L558.2 242.7L559.8 288.3L560.2 288.3L563.2 224.7L563.6 224.7L565.4 275.3L565.8 275.3L568.0 224.7L568.4 224.7L570.8 302.3L571.2 302.3L573.0 226.7L573.4 226.7L575.8 304.9L576.2 304.9L578.0 232.3L578.4 232.3L580.8 302.3L581.2 302.3L583.0 229.7L583.4 229.7L585.8 311.9L586.2 311.9L588.0 235.1L588.4 235.1L590.8 310.9L591.2 310.9L593.0 237.1L593.4 237.1L595.8 319.3L596.2 319.3L598.0 258.7L598.4 258.7L600.8 331.9L601.2 331.9L602.8 268.7L603.2 268.7L605.8 324.3L606.2 324.3L607.8 271.7L608.2 271.7L611.2 327.7L611.6 327.7L612.8 283.7L613.2 283.7L616.2 314.3L616.6 314.3L617.8 291.7L618.2 291.7L621.2 323.7L621.6 323.7L624.8 263.7L625.2 263.7L626.4 321.7L626.8 321.7L629.8 260.3L630.2 260.3L631.8 321.7L632.2 321.7L634.8 239.1L635.2 239.1L637.2 320.3L637.6 320.3L640.2 232.3L640.6 232.3L642.8 330.3L643.2 330.3L645.2 233.1L645.6 233.1L647.8 338.7L648.2 338.7L650.2 232.7L650.6 232.7L653.2 342.9L653.6 342.9L655.2 230.7L655.6 230.7L658.2 303.3L658.6 303.3L660.2 219.7L660.6 219.7L663.4 295.3L663.8 295.3L665.2 210.1L665.6 210.1L668.4 289.3L668.8 289.3L670.2 223.1L670.6 223.1L673.4 278.9L673.8 278.9L675.2 238.3L675.6 238.3L678.4 280.9L678.8 280.9L682.2 248.3L682.6 248.3L684.2 287.7L684.6 287.7L687.4 260.3L687.8 260.3L689.4 287.7L689.8 287.7L692.4 239.7L692.8 239.7L694.8 291.7L695.2 291.7L697.4 234.3L697.8 234.3L699.8 303.7L700.2 303.7L702.4 247.7L702.8 247.7L705.2 318.3L705.6 318.3L707.4 243.7L707.8 243.7L710.2 320.3L710.6 320.3L712.4 236.7L712.8 236.7L715.4 303.3L715.8 303.3L717.4 225.3L717.8 225.3L720.4 296.3L720.8 296.3L722.4 227.1L722.8 227.1L725.2 316.3L725.6 316.3L727.4 240.7L727.8 240.7L730.2 322.3L730.6 322.3L732.2 249.1L732.6 249.1L735.2 317.3L735.6 317.3L737.8 256.7L738.2 256.7L739.8 315.3L740.2 315.3L742.2 255.7L742.6 255.7L745.2 296.3L745.6 296.3L747.2 258.7L747.6 258.7L750.2 308.3L750.6 308.3L753.8 284.7L754.2 284.7L755.8 328.3L756.2 328.3L759.2 279.7L759.6 279.7L760.8 324.3L761.2 324.3L764.2 269.7L764.6 269.7L766.2 335.3L766.6 335.3L769.2 245.1L769.6 245.1L771.8 336.3L772.2 336.3L774.2 247.1L774.6 247.1L777.2 341.7L777.6 341.7L779.2 231.7L779.6 231.7L782.2 336.3L782.6 336.3L784.2 228.7L784.6 228.7L787.4 324.3L787.8 324.3L789.2 211.7L789.6 211.7L792.4 317.7L792.8 317.7L794.2 230.3L794.6 230.3L797.8 311.3L798.2 311.3L799.2 230.7L799.6 230.7L802.8 307.3L803.2 307.3L804.2 248.7L804.6 248.7L807.8 306.3L808.2 306.3L809.2 265.7L809.6 265.7L812.8 302.3L813.2 302.3L816.2 271.7L816.6 271.7L818.2 305.7L818.6 305.7L821.4 256.7L821.8 256.7L823.4 292.3L823.8 292.3L826.4 250.3L826.8 250.3L829.2 310.3L829.6 310.3L831.4 269.1L831.8 269.1L834.2 341.3L834.6 341.3L836.4 278.7L836.8 278.7L839.2 342.9L839.6 342.9L841.4 258.7L841.8 258.7L844.2 316.3L844.6 316.3L846.4 249.1L846.8 249.1L849.2 326.3L849.6 326.3L851.4 249.1L851.8 249.1L854.4 326.3L854.8 326.3L856.4 245.1L856.8 245.1L859.4 298.9L859.8 298.9L861.2 220.7L861.6 220.7L864.2 292.3L864.6 292.3L866.2 216.3L866.6 216.3L869.8 295.3L870.2 295.3L871.2 240.7L871.6 240.7L874.8 282.3L875.2 282.3L876.2 225.7L876.6 225.7L879.8 276.3L880.2 276.3L881.2 239.7L881.6 239.7L884.8 268.9L885.2 268.9L888.2 223.7L888.6 223.7L889.8 273.7L890.2 273.7L893.2 229.7L893.6 229.7L895.2 285.3L895.6 285.3L898.2 228.3L898.6 228.3L900.8 302.9L901.2 302.9L903.4 212.1L903.8 212.1L906.2 300.3L906.6 300.3L908.4 216.1L908.8 216.1L911.4 302.9L911.8 302.9L913.4 183.7L913.8 183.7L916.8 272.3L917.2 272.3L918.8 167.7L919.2 167.7L921.8 269.3L922.2 269.3L923.8 179.7L924.2 179.7L926.8 275.3L927.2 275.3L928.8 190.3L929.2 190.3L931.8 264.3L932.2 264.3L933.8 202.7L934.2 202.7L937.2 266.3L937.6 266.3L938.8 202.7L939.2 202.7L942.4 253.3L942.8 253.3L945.4 218.3L945.8 218.3L947.4 257.3L947.8 257.3L950.8 214.3L951.2 214.3L952.2 251.3L952.6 251.3L955.8 202.7L956.2 202.7L957.4 246.3L957.8 246.3L960.8 199.3L961.2 199.3L962.8 251.3L963.2 251.3L965.8 207.3L966.2 207.3L968.2 273.3L968.6 273.3L971.2 201.7L971.6 201.7L973.2 262.3L973.6 262.3L976.2 199.7L976.6 199.7L978.4 255.3L978.8 255.3L981.2 188.7L981.6 188.7L983.8 251.3L984.2 251.3L986.2 181.1L986.6 181.1L988.8 238.3L989.2 238.3L991.2 162.3L991.6 162.3L993.8 223.3L994.2 223.3L995.8 172.3L996.2 172.3L998.8 242.3L999.2 242.3L1000.8 185.7L1001.2 185.7L1003.8 246.3L1004.2 246.3L1005.8 196.7L1006.2 196.7L1008.8 234.3L1009.2 234.3L1012.2 180.7L1012.6 180.7L1014.2 219.3L1014.6 219.3L1016.8 202.7L1017.2 202.7L1019.4 263.3L1019.8 263.3L1022.4 177.7L1022.8 177.7L1023.8 221.3L1024.2 221.3L1027.8 162.1L1028.2 162.1L1029.2 218.9L1029.6 218.9L1032.8 153.3L1033.2 153.3L1034.8 248.3L1035.2 248.3L1037.8 176.7L1038.2 176.7L1040.8 259.3L1041.2 259.3L1042.8 165.7L1043.2 165.7L1045.8 266.3L1046.2 266.3L1047.8 170.3L1048.2 170.3L1050.8 280.3L1051.2 280.3L1052.8 197.7L1053.2 197.7L1055.8 279.3L1056.2 279.3L1057.8 189.7L1058.2 189.7L1061.2 270.3L1061.6 270.3L1063.4 199.7L1063.8 199.7L1066.2 268.9L1066.6 268.9L1068.4 211.7L1068.8 211.7L1071.4 278.3L1071.8 278.3L1075.4 227.7L1075.8 227.7L1076.4 269.3L1076.8 269.3L1080.4 195.7L1080.8 195.7L1082.4 212.3L1082.8 212.3L1084.8 153.7L1085.2 153.7L1086.8 200.3L1087.2 200.3L1090.2 104.7L1090.6 104.7L1092.8 175.3L1093.2 175.3L1095.2 128.7L1095.6 128.7L1097.8 171.3L1098.2 171.3L1100.2 123.7L1100.6 123.7L1102.2 188.3L1102.6 188.3L1105.2 132.7L1105.6 132.7L1107.8 211.3L1108.2 211.3L1110.4 98.3L1110.8 98.3L1112.8 180.3L1113.2 180.3L1115.2 158.3L1115.6 158.3L1117.8 215.3L1118.2 215.3L1120.2 160.7L1120.6 160.7L1122.8 231.3L1123.2 231.3L1125.2 177.7L1125.6 177.7L1127.8 227.3L1128.2 227.3L1130.2 172.1L1130.6 172.1L1133.2 243.7L1133.6 243.7L1137.0 167.7L1137.4 167.7L1138.0 168.9L1138.4 168.9L1139.8 131.3L1140.2 131.3L1142.8 164.3L1143.2 164.3L1144.6 127.3L1145.0 127.3L1145.8 128.5L1146.2 128.5L1147.0 127.3L1147.4 127.3L1148.8 203.3L1149.2 203.3L1151.8 164.1L1152.2 164.1L1154.2 234.3L1154.6 234.3L1157.2 178.7L1157.6 178.7L1159.2 237.3L1159.6 237.3L1162.2 162.1L1162.6 162.1L1164.8 307.3L1165.2 307.3L1167.2 238.7L1167.6 238.7L1169.8 287.3L1170.2 287.3L1172.2 180.3L1172.6 180.3L1175.4 274.3L1175.8 274.3L1177.2 181.3L1177.6 181.3L1180.4 273.7L1180.8 273.7L1182.2 157.3L1182.6 157.3L1185.4 217.3L1185.8 217.3L1187.2 161.1L1187.6 161.1L1190.4 241.3L1190.8 241.3L1192.4 174.3L1192.8 174.3L1195.4 254.3L1195.8 254.3L1199.2 200.7L1199.6 200.7L1200.4 248.3L1200.8 248.3L1204.2 198.7L1204.6 198.7L1205.8 242.3L1206.2 242.3L1209.4 183.3L1209.8 183.3L1211.4 231.3L1211.8 231.3L1214.4 171.7L1214.8 171.7L1216.4 258.3L1216.8 258.3L1219.4 205.7L1219.8 205.7L1221.8 269.3L1222.2 269.3L1224.2 216.7L1224.6 216.7L1226.8 276.3L1227.2 276.3L1229.4 209.7L1229.8 209.7L1232.2 285.3L1232.6 285.3L1234.2 224.7L1234.6 224.7L1236.8 276.3L1237.2 276.3L1239.2 180.7L1239.6 180.7L1241.2 231.3L1241.6 231.3L1244.2 176.7L1244.6 176.7L1246.8 262.9L1247.2 262.9L1249.4 204.7L1249.8 204.7L1251.8 237.3L1252.2 237.3L1254.4 137.7L1254.8 137.7L1257.2 199.3L1257.6 199.3L1259.4 176.3L1259.8 176.3L1262.2 257.3L1262.6 257.3L1264.4 214.7L1264.8 214.7L1267.4 240.3L1267.8 240.3L1269.4 188.7L1269.8 188.7L1272.8 233.3L1273.2 233.3L1276.2 224.7L1276.6 224.7L1277.8 262.3L1278.2 262.3L1281.2 226.7L1281.6 226.7L1282.8 277.3L1283.2 277.3L1286.2 188.7L1286.6 188.7L1288.4 258.9L1288.8 258.9L1291.4 142.3L1291.8 142.3L1294.2 220.3L1294.6 220.3L1296.4 156.7L1296.8 156.7L1299.2 260.9L1299.6 260.9L1301.4 161.7L1301.8 161.7L1304.2 259.3L1304.6 259.3L1306.4 168.3L1306.8 168.3L1309.2 268.9L1309.6 268.9L1311.4 177.7L1311.8 177.7L1314.2 269.3L1314.6 269.3L1316.4 181.1L1316.8 181.1L1319.2 261.3L1319.6 261.3L1321.4 197.7L1321.8 197.7L1324.4 279.3L1324.8 279.3L1326.4 219.7L1326.8 219.7L1329.8 267.3L1330.2 267.3L1331.4 222.7L1331.8 222.7L1334.8 264.9L1335.2 264.9L1338.4 218.7L1338.8 218.7L1340.8 286.9L1341.2 286.9L1343.8 232.3L1344.2 232.3L1345.8 294.9L1346.2 294.9L1348.8 252.7L1349.2 252.7L1350.8 307.7L1351.2 307.7L1353.8 229.1L1354.2 229.1L1355.8 296.3L1356.2 296.3L1358.8 224.3L1359.2 224.3L1360.8 294.9L1361.2 294.9L1363.8 219.1L1364.2 219.1L1366.2 308.9L1366.6 308.9L1368.8 239.7L1369.2 239.7L1370.8 279.3L1371.2 279.3L1373.4 200.3L1373.8 200.3L1375.8 242.3L1376.2 242.3L1378.4 153.3L1378.8 153.3L1381.4 254.3L1381.8 254.3L1383.4 199.3L1383.8 199.3L1386.4 276.9L1386.8 276.9L1388.4 226.3L1388.8 226.3L1391.4 289.3L1391.8 289.3L1393.4 229.7L1393.8 229.7L1396.4 239.3L1396.8 239.3L1398.4 203.3L1398.8 203.3L1401.4 249.3L1401.8 249.3L1403.4 230.1L1403.8 230.1L1406.8 289.3L1407.2 289.3L1410.2 238.7L1410.6 238.7L1412.2 282.3L1412.6 282.3L1415.4 251.7L1415.8 251.7L1417.4 320.3L1417.8 320.3L1420.4 234.3L1420.8 234.3L1422.8 304.3L1423.2 304.3L1425.4 207.3L1425.8 207.3L1428.4 289.7L1428.8 289.7L1430.4 201.7L1430.8 201.7L1432.0 247.0" stroke="#f00" stroke-linejoin="round"/>
</g>
<rect x="86.5" y="80.5" width="1410.0" height="387.0" fill="none" stroke="#000" stroke-width="1.1"/>
<g stroke="#000" stroke-width="1.1">
<line x1="97.5" y1="467.5" x2="97.5" y2="472.5"/>
<line x1="246.4" y1="467.5" x2="246.4" y2="472.5"/>
<line x1="390.5" y1="467.5" x2="390.5" y2="472.5"/>
<line x1="539.4" y1="467.5" x2="539.4" y2="472.5"/>
<line x1="683.5" y1="467.5" x2="683.5" y2="472.5"/>
<line x1="832.5" y1="467.5" x2="832.5" y2="472.5"/>
<line x1="981.4" y1="467.5" x2="981.4" y2="472.5"/>
<line x1="1125.5" y1="467.5" x2="1125.5" y2="472.5"/>
<line x1="1274.4" y1="467.5" x2="1274.4" y2="472.5"/>
<line x1="1418.5" y1="467.5" x2="1418.5" y2="472.5"/>
<line x1="81.2" y1="139.5" x2="86.5" y2="139.5"/>
<line x1="81.2" y1="199.5" x2="86.5" y2="199.5"/>
<line x1="81.2" y1="259.5" x2="86.5" y2="259.5"/>
<line x1="81.2" y1="319.5" x2="86.5" y2="319.5"/>
<line x1="81.2" y1="379.5" x2="86.5" y2="379.5"/>
<line x1="81.2" y1="439.5" x2="86.5" y2="439.5"/>
</g>
<g font-size="19.44px">
<text x="96.1" y="492.0" text-anchor="middle" textLength="80.3" lengthAdjust="spacing">2013-03</text>
<text x="245.0" y="492.0" text-anchor="middle" textLength="80.3" lengthAdjust="spacing">2013-04</text>
<text x="389.1" y="492.0" text-anchor="middle" textLength="80.3" lengthAdjust="spacing">2013-05</text>
<text x="538.0" y="492.0" text-anchor="middle" textLength="80.3" lengthAdjust="spacing">2013-06</text>
<text x="682.1" y="492.0" text-anchor="middle" textLength="80.3" lengthAdjust="spacing">2013-07</text>
<text x="831.1" y="492.0" text-anchor="middle" textLength="80.3" lengthAdjust="spacing">2013-08</text>
<text x="980.0" y="492.0" text-anchor="middle" textLength="80.3" lengthAdjust="spacing">2013-09</text>
<text x="1124.1" y="492.0" text-anchor="middle" textLength="80.3" lengthAdjust="spacing">2013-10</text>
<text x="1273.0" y="492.0" text-anchor="middle" textLength="80.3" lengthAdjust="spacing">2013-11</text>
<text x="1417.1" y="492.0" text-anchor="middle" textLength="80.3" lengthAdjust="spacing">2013-12</text>
<text x="75.2" y="146.6" text-anchor="end" textLength="30" lengthAdjust="spacing">0.2</text>
<text x="75.2" y="206.6" text-anchor="end" textLength="30" lengthAdjust="spacing">0.1</text>
<text x="75.2" y="266.6" text-anchor="end" textLength="30" lengthAdjust="spacing">0.0</text>
<text x="75.2" y="326.6" text-anchor="end" textLength="46" lengthAdjust="spacing">−0.1</text>
<text x="75.2" y="386.6" text-anchor="end" textLength="46" lengthAdjust="spacing">−0.2</text>
<text x="75.2" y="446.6" text-anchor="end" textLength="46" lengthAdjust="spacing">−0.3</text>
<text transform="translate(19.0 274.0) rotate(-90)" text-anchor="middle">Sea surface height [m]</text>
</g>
<g font-size="22.22px">
<text x="86" y="21.9" xml:space="preserve" textLength="936.5" lengthAdjust="spacing">nerrs_kach3wq: bias: -0.0  corr: -0.2  ioa: nan  mse: 0.0  ss: -1.1  rmse: 0.1  dist: 0.3</text>
<text x="86" y="48.5" textLength="504.5" lengthAdjust="spacing">2013-03-12 depth: 0.0 lon: -151.41 lat: 59.60</text>
<text x="86" y="75.2" textLength="767" lengthAdjust="spacing">Subtidal sea surface height with mean subtracted, from fixed station</text>
</g>
<rect x="1398.5" y="87.5" width="91.5" height="46.2" rx="3" ry="3" fill="#fff" fill-opacity="0.8" stroke="#ccc" stroke-width="1.1"/>
<g stroke-width="2.78"><line x1="1402" y1="99.5" x2="1433" y2="99.5" stroke="#000"/><line x1="1402" y1="120.4" x2="1433" y2="120.4" stroke="#f00"/></g>
<g font-size="13.89px"><text x="1443" y="103.9" textLength="30.6" lengthAdjust="spacing">data</text><text x="1443" y="124.8" textLength="40.2" lengthAdjust="spacing">CIOFS</text></g>
</svg></body></html>
